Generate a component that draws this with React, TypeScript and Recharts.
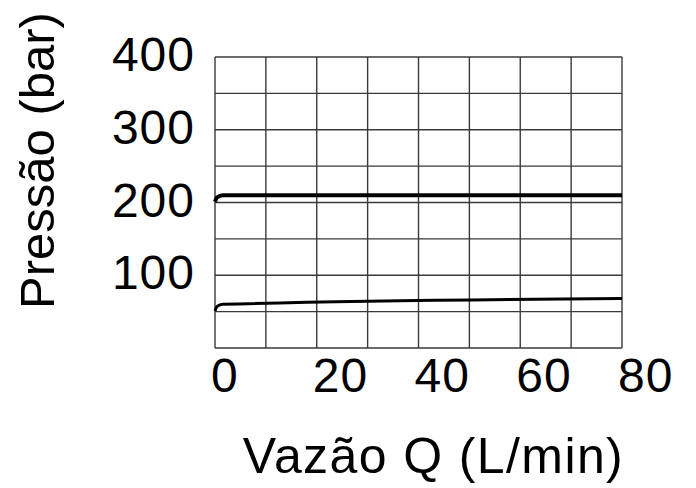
import React from 'react';
import { LineChart, Line, XAxis, YAxis, CartesianGrid, Label } from 'recharts';

// vazão (L/min) e pressão (bar)
const flow = [0, 0.4, 1.5, 80];
const upperPressure = [201, 207, 210, 210];
const lowerPressure = [51, 57, 60, 68];

const xTicks = [0, 10, 20, 30, 40, 50, 60, 70, 80];
const xLabels = [0, 20, 40, 60, 80];
const yTicks = [0, 50, 100, 150, 200, 250, 300, 350, 400];
const yLabels = [100, 200, 300, 400];

const data = flow.map((q, i) => ({ q, upper: upperPressure[i], lower: lowerPressure[i] }));

const FONT = '"Liberation Sans", Arial, sans-serif';

const XTick = (props: any) => {
    const { x, y, payload } = props;
    if (!xLabels.includes(payload.value)) return <g />;
    return (
        <text x={x - 4} y={y + 44} textAnchor="start" fontSize={48} fontFamily={FONT} fill="#000" letterSpacing={1}>
            {payload.value}
        </text>
    );
};

const YTick = (props: any) => {
    const { x, y, payload } = props;
    if (!yLabels.includes(payload.value)) return <g />;
    return (
        <text x={x - 20} y={y + 14} textAnchor="end" fontSize={48} fontFamily={FONT} fill="#000" letterSpacing={1}>
            {payload.value}
        </text>
    );
};

const XTitle = (props: any) => {
    const vb = props.viewBox || { x: 0, y: 0, width: 0 };
    return (
        <text x={vb.x + vb.width / 2 + 15} y={vb.y + 125} textAnchor="middle" fontSize={50} fontFamily={FONT} fill="#000" letterSpacing={1.4}>
            Vazão Q (L/min)
        </text>
    );
};

const YTitle = (props: any) => {
    const vb = props.viewBox || { x: 0, y: 0, height: 0 };
    const cx = 54;
    const cy = vb.y + vb.height / 2 - 42;
    return (
        <text x={cx} y={cy} transform={`rotate(-90 ${cx} ${cy})`} textAnchor="middle" fontSize={49} fontFamily={FONT} fill="#000">
            Pressão (bar)
        </text>
    );
};

export default function App() {
    return (
        <div style={{ position: 'absolute', left: 0, top: 0, width: 696, height: 488, background: '#fff' }}>
            <LineChart width={696} height={488} data={data} margin={{ top: 57, right: 74, left: 0, bottom: 0 }}>
                <CartesianGrid stroke="#3a3a3a" strokeWidth={1.4} horizontalValues={yTicks} verticalValues={xTicks} />
                <XAxis
                    dataKey="q"
                    type="number"
                    domain={[0, 80]}
                    ticks={xTicks}
                    interval={0}
                    height={140}
                    axisLine={false}
                    tickLine={false}
                    tickSize={0}
                    tickMargin={0}
                    tick={<XTick />}
                >
                    <Label content={<XTitle />} />
                </XAxis>
                <YAxis
                    type="number"
                    domain={[0, 400]}
                    ticks={yTicks}
                    interval={0}
                    width={215}
                    axisLine={false}
                    tickLine={false}
                    tickSize={0}
                    tickMargin={0}
                    tick={<YTick />}
                >
                    <Label content={<YTitle />} />
                </YAxis>
                <Line isAnimationActive={false} type="monotone" dataKey="upper" stroke="#000" strokeWidth={4} dot={false} />
                <Line isAnimationActive={false} type="monotone" dataKey="lower" stroke="#000" strokeWidth={3} dot={false} />
            </LineChart>
        </div>
    );
}
